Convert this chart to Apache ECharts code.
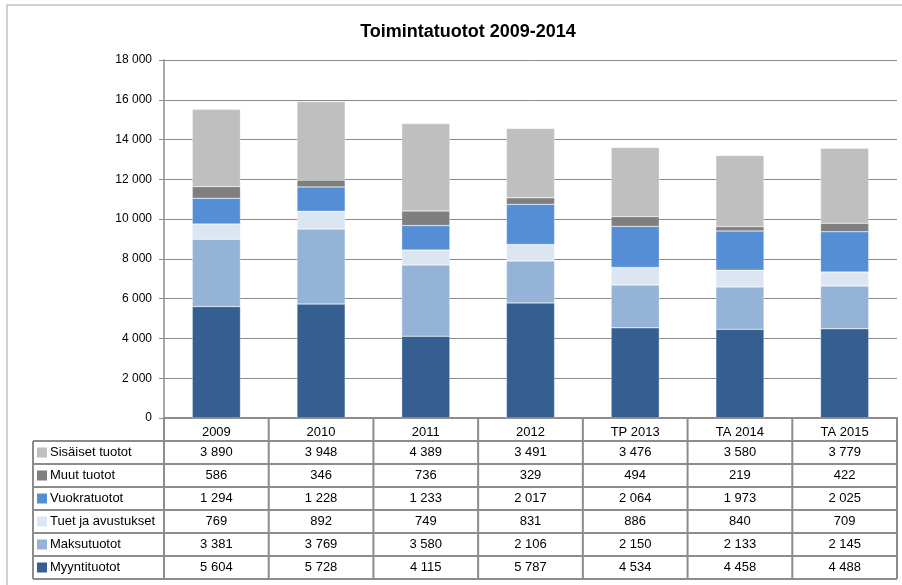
<!DOCTYPE html>
<html>
<head>
<meta charset="utf-8">
<script src="https://cdn.jsdelivr.net/npm/echarts@6/dist/echarts.min.js"></script>
<style>
  html, body { margin: 0; padding: 0; background: #fff; }
  #chart { width: 902px; height: 585px; }
</style>
</head>
<body>
<div id="chart"></div>
<script>
// data
const categories = ['2009', '2010', '2011', '2012', 'TP 2013', 'TA 2014', 'TA 2015'];
const seriesNames = ['Myyntituotot', 'Maksutuotot', 'Tuet ja avustukset', 'Vuokratuotot', 'Muut tuotot', 'Sisäiset tuotot'];
const myyntituotot = [5604, 5728, 4115, 5787, 4534, 4458, 4488];
const maksutuotot = [3381, 3769, 3580, 2106, 2150, 2133, 2145];
const tuetJaAvustukset = [769, 892, 749, 831, 886, 840, 709];
const vuokratuotot = [1294, 1228, 1233, 2017, 2064, 1973, 2025];
const muutTuotot = [586, 346, 736, 329, 494, 219, 422];
const sisaisetTuotot = [3890, 3948, 4389, 3491, 3476, 3580, 3779];
const yTicks = [0, 2000, 4000, 6000, 8000, 10000, 12000, 14000, 16000, 18000];

const seriesData = [myyntituotot, maksutuotot, tuetJaAvustukset, vuokratuotot, muutTuotot, sisaisetTuotot];
const colors = ['#355f91', '#95b3d7', '#dce6f2', '#558ed5', '#7f7f7f', '#bfbfbf'];

// layout
const gridLeft = 164, gridRight = 897, gridTop = 60, axisY = 418;
const headerBottom = 441, rowH = 23, tableLeft = 33;
const colW = (gridRight - gridLeft) / categories.length;
const lineColor = '#8c8c8c';

function fmt(v) {
  return String(v).replace(/\B(?=(\d{3})+(?!\d))/g, ' ');
}

const chart = echarts.init(document.getElementById('chart'));

// data table drawn below the axis
const graphics = [];
// outer frame
graphics.push({ type: 'polyline', shape: { points: [[7, 590], [7, 5], [905, 5]] },
  style: { stroke: '#c3c3c3', lineWidth: 1.5, fill: null }, silent: true });

const nRows = seriesNames.length;
const tableBottom = headerBottom + nRows * rowH;
// horizontal lines
for (let i = 0; i <= nRows; i++) {
  const y = headerBottom + i * rowH;
  graphics.push({ type: 'line', shape: { x1: tableLeft, y1: y, x2: gridRight, y2: y },
    style: { stroke: lineColor, lineWidth: 2 }, silent: true });
}
// vertical lines
graphics.push({ type: 'line', shape: { x1: tableLeft, y1: headerBottom, x2: tableLeft, y2: tableBottom },
  style: { stroke: lineColor, lineWidth: 2 }, silent: true });
for (let c = 0; c <= categories.length; c++) {
  const x = gridLeft + c * colW;
  graphics.push({ type: 'line', shape: { x1: x, y1: axisY, x2: x, y2: tableBottom },
    style: { stroke: lineColor, lineWidth: 2 }, silent: true });
}
// rows: top row is the last (topmost) series
for (let r = 0; r < nRows; r++) {
  const s = nRows - 1 - r;
  const cy = headerBottom + r * rowH + rowH / 2;
  graphics.push({ type: 'rect', shape: { x: 37, y: cy - 5, width: 10, height: 10 },
    style: { fill: colors[s] }, silent: true });
  graphics.push({ type: 'text', x: 50, y: cy,
    style: { text: seriesNames[s], fill: '#000', font: '13px "Liberation Sans", Arial, sans-serif',
      textAlign: 'left', textVerticalAlign: 'middle' }, silent: true });
  seriesData[s].forEach(function (v, c) {
    graphics.push({ type: 'text', x: gridLeft + c * colW + colW / 2, y: cy,
      style: { text: fmt(v), fill: '#000', font: '13px "Liberation Sans", Arial, sans-serif',
        textAlign: 'center', textVerticalAlign: 'middle' }, silent: true });
  });
}

chart.setOption({
  animation: false,
  backgroundColor: '#fff',
  title: {
    text: 'Toimintatuotot 2009-2014',
    left: 463, top: 18, textAlign: 'center',
    textStyle: { fontFamily: '"Liberation Sans", Arial, sans-serif', fontSize: 18, fontWeight: 'bold', color: '#000' }
  },
  grid: { left: gridLeft, right: 902 - gridRight, top: gridTop, bottom: 585 - axisY, containLabel: false },
  xAxis: {
    type: 'category',
    data: categories,
    axisLine: { show: true, lineStyle: { color: lineColor, width: 2 } },
    axisTick: { show: false },
    axisLabel: { color: '#000', fontSize: 13, fontFamily: '"Liberation Sans", Arial, sans-serif', margin: 8, interval: 0 }
  },
  yAxis: {
    type: 'value',
    min: 0, max: 18000, interval: 2000,
    axisLine: { show: true, lineStyle: { color: lineColor, width: 1.5 } },
    axisTick: { show: true, length: 5, lineStyle: { color: lineColor } },
    splitLine: { show: true, lineStyle: { color: '#8a8a8a', width: 1 } },
    axisLabel: {
      color: '#000', fontSize: 12, fontFamily: '"Liberation Sans", Arial, sans-serif', margin: 12,
      formatter: function (v) { return yTicks.indexOf(v) >= 0 ? fmt(v) : ''; }
    }
  },
  series: seriesData.map(function (d, i) {
    return {
      name: seriesNames[i],
      type: 'bar',
      stack: 'total',
      data: d,
      barWidth: '46%',
      itemStyle: { color: colors[i], borderColor: 'rgba(255,255,255,0.6)', borderWidth: 0.5 }
    };
  }),
  graphic: graphics
});
</script>
</body>
</html>
